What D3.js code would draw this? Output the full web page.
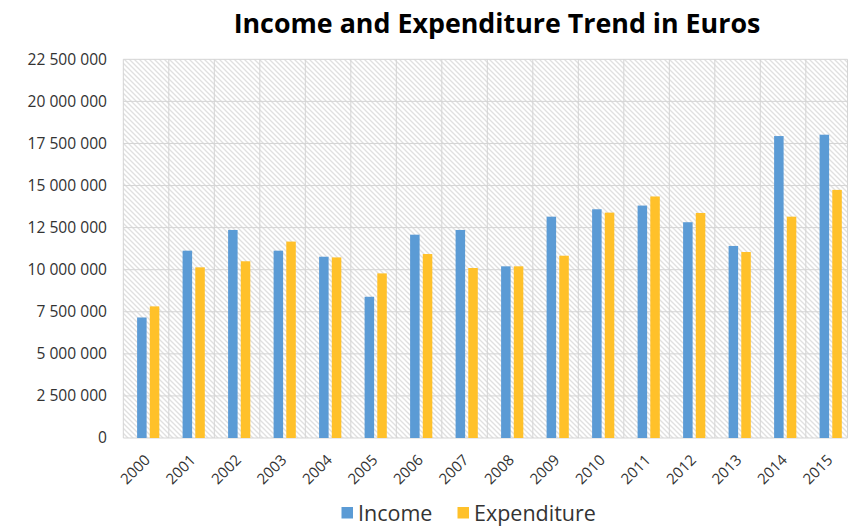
<!DOCTYPE html>
<html>
<head>
<meta charset="utf-8">
<script src="https://cdn.jsdelivr.net/npm/d3@7"></script>
<style>
  html, body { margin: 0; padding: 0; background: #fff; }
  svg { display: block; }
</style>
</head>
<body>
<svg id="chart" width="854" height="528"></svg>
<script>
const years = ["2000","2001","2002","2003","2004","2005","2006","2007","2008","2009","2010","2011","2012","2013","2014","2015"];
const income = [7160000,11130000,12360000,11130000,10770000,8390000,12080000,12360000,10200000,13150000,13590000,13810000,12820000,11410000,17940000,18020000];
const expenditure = [7820000,10140000,10500000,11670000,10730000,9780000,10930000,10100000,10200000,10830000,13390000,14350000,13370000,11050000,13150000,14740000];
const yTicks = [0,2500000,5000000,7500000,10000000,12500000,15000000,17500000,20000000,22500000];
const seriesNames = ["Income","Expenditure"];
const seriesColors = ["#5B9BD5","#FFC12A"];
const title = "Income and Expenditure Trend in Euros";

(function(){
const svg = d3.select("#chart");
const pLeft = 123.3, pRight = 851.3, pTop = 59.3, pBottom = 438, pClip = 847.5;

// hatch pattern
const defs = svg.append("defs");
const pat = defs.append("pattern").attr("id","hatch").attr("patternUnits","userSpaceOnUse")
  .attr("width",5).attr("height",5);
pat.append("rect").attr("width",5).attr("height",5).attr("fill","#ffffff");
pat.append("path").attr("d","M-1,-1 L6,6 M-1,4 L1,6 M4,-1 L6,1")
  .attr("stroke","#e0e0e0").attr("stroke-width",1.3);

const x = d3.scaleBand().domain(years).range([pLeft,pRight]).padding(0);
const x1 = d3.scaleBand().domain(seriesNames).range([13.8,36]).paddingInner(0.25);
const y = d3.scaleLinear().domain([0,22500000]).range([pBottom,pTop]);

svg.append("rect").attr("x",pLeft).attr("y",pTop).attr("width",pClip-pLeft).attr("height",pBottom-pTop)
  .attr("fill","url(#hatch)");

// gridlines
svg.append("g").selectAll("line").data(yTicks).join("line")
  .attr("x1",pLeft).attr("x2",pClip).attr("y1",d=>y(d)).attr("y2",d=>y(d))
  .attr("stroke","#d4d4d4").attr("stroke-width",1);
svg.append("g").selectAll("line").data(years.concat(["end"])).join("line")
  .attr("x1",(d,i)=> i<years.length ? x(d) : pClip)
  .attr("x2",(d,i)=> i<years.length ? x(d) : pClip)
  .attr("y1",pTop).attr("y2",pBottom)
  .attr("stroke","#d4d4d4").attr("stroke-width",1);

// bars
const data = years.map((yr,i)=>({year:yr, values:[income[i],expenditure[i]]}));
const groups = svg.append("g").selectAll("g").data(data).join("g")
  .attr("transform",d=>`translate(${x(d.year)},0)`);
groups.selectAll("rect").data(d=>d.values.map((v,j)=>({name:seriesNames[j],v,c:seriesColors[j]}))).join("rect")
  .attr("x",d=>x1(d.name)).attr("width",x1.bandwidth())
  .attr("y",d=>y(d.v)).attr("height",d=>y(0)-y(d.v))
  .attr("fill",d=>d.c);

// y axis labels
const loc = d3.formatLocale({decimal:",", thousands:" ", grouping:[3], currency:["","€"]});
const fmt = loc.format(",");
svg.append("g").selectAll("text").data(yTicks).join("text")
  .attr("x",107).attr("y",d=>y(d)).attr("dy","0.35em")
  .attr("text-anchor","end")
  .attr("font-family","Open Sans, sans-serif").attr("font-size",15.6)
  .attr("fill","#333").text(d=>fmt(d));

// x axis labels
svg.append("g").selectAll("text").data(years).join("text")
  .attr("transform",d=>`translate(${x(d)+x.bandwidth()/2+5},${pBottom+23}) rotate(-45)`)
  .attr("text-anchor","end")
  .attr("font-family","Open Sans, sans-serif").attr("font-size",15)
  .attr("fill","#333").text(d=>d);

// title
const t = svg.append("text").attr("x",497).attr("y",33).attr("text-anchor","middle")
  .attr("font-family","Open Sans, sans-serif").attr("font-weight","bold").attr("font-size",24)
  .attr("fill","#000").text(title);
const w = t.node().getComputedTextLength();
t.attr("font-size", 24*527/w);

// legend
const legend = svg.append("g");
const legX = [341.5, 457.5];
seriesNames.forEach((n,i)=>{
  legend.append("rect").attr("x",legX[i]).attr("y",507).attr("width",11.5).attr("height",11.5).attr("fill",seriesColors[i]);
  legend.append("text").attr("x",legX[i]+16.5).attr("y",520.5)
    .attr("font-family","Open Sans, sans-serif").attr("font-size",21.5).attr("fill","#333").text(n);
});
})();
</script>
</body>
</html>
